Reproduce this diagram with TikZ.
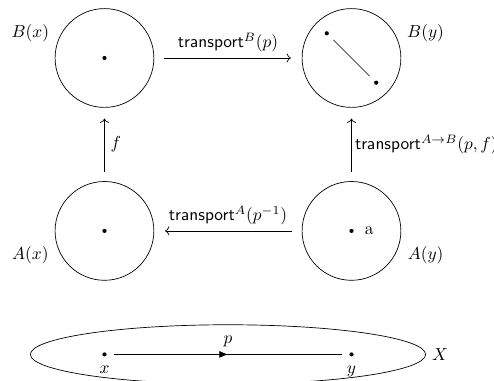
\documentclass[tikz,border=0pt]{standalone}
\usetikzlibrary{decorations.markings,arrows.meta,shapes.geometric}
\begin{document}
\begin{tikzpicture}[
  fibre/.style={draw, circle, minimum size=2cm, inner sep=0pt},
  pt/.style={circle, fill, inner sep=0pt, minimum size=2.4pt},
  map/.style={->, shorten <=5.5pt, shorten >=6.2pt},
  pathline/.style={shorten <=4pt, shorten >=4pt,
    decoration={markings, mark=at position 0.5 with {\arrow{Latex[length=5pt,width=4pt]}}},
    postaction={decorate}}
]
\useasboundingbox (-4.615,-0.538) rectangle (5.385,7.174);
% fibres
\node[fibre] (Bx) at (-2.5,6) {};
\node[fibre] (By) at (2.5,6) {};
\node[fibre] (Ax) at (-2.5,2.5) {};
\node[fibre] (Ay) at (2.5,2.5) {};
% fibre names
\node (lBx) at (-4,6.5) {$B(x)$};
\node (lBy) at (4,6.5) {$B(y)$};
\node (lAx) at (-4,2) {$A(x)$};
\node (lAy) at (4,2) {$A(y)$};
% points
\node[pt] (bx) at (Bx.center) {};
\node[pt] (b1) at (2,6.5) {};
\node[pt] (b2) at (3,5.5) {};
\draw[shorten <=4pt, shorten >=4pt] (b1) -- (b2);
\node[pt] (ax) at (Ax.center) {};
\node[pt] (ay) at (Ay.center) {};
\node (alab) at (2.86,2.5) {a};
% maps
\draw[map] (Bx) -- node[above] {$\mathsf{transport}^B(p)$} (By);
\draw[map] (Ay) -- node[above] {$\mathsf{transport}^A(p^{-1})$} (Ax);
\draw[map] (Ax) -- node[right] {$f$} (Bx);
\draw[map] (Ay) -- node[right, xshift=-1.5pt] {$\mathsf{transport}^{A\to B}(p,f)$} (By);
% base space
\node[draw, ellipse, minimum width=8cm, minimum height=1.2cm, inner sep=0pt] (X) at (0,0) {};
\node[right] (lX) at (X.east) {$X$};
\node[pt, label={[label distance=2pt]below:$x$}] (x) at (-2.5,0) {};
\node[pt, label={[label distance=2pt]below:$y$}] (y) at (2.5,0) {};
\draw[pathline] (x) -- node[above, yshift=1pt] {$p$} (y);
\end{tikzpicture}
\end{document}
